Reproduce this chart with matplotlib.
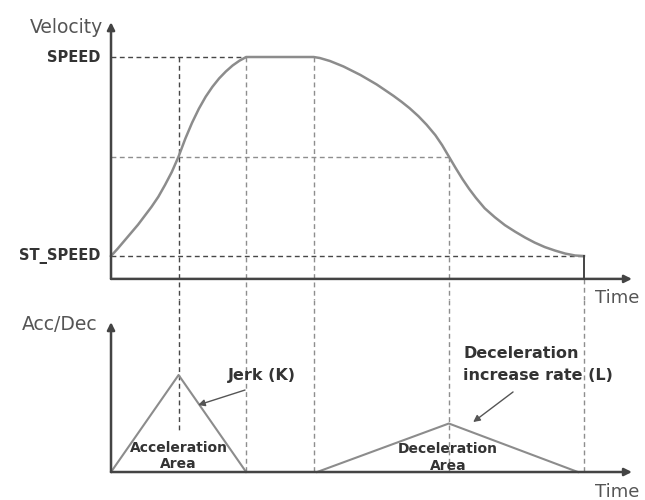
import matplotlib
matplotlib.use("Agg")
import matplotlib.pyplot as plt

# phase boundaries on the time axis
t_marks = [0, 1, 2, 3, 5, 7]
SPEED = 5.0
ST_SPEED = 1.0
V_MID = 3.0
V_AXIS = 0.54   # where the time axis sits in the velocity panel

# velocity curve
vel_t = [0, 0.1, 0.2, 0.3, 0.4, 0.5, 0.6, 0.7, 0.8, 0.9, 1.0,
         1.1, 1.2, 1.3, 1.4, 1.5, 1.6, 1.7, 1.8, 1.9, 2.0,
         3.0, 3.09, 3.24, 3.44, 3.69, 3.93, 4.05, 4.18, 4.3, 4.42, 4.55,
         4.67, 4.8, 4.9, 5.0,
         5.1, 5.2, 5.3, 5.4, 5.53, 5.68, 5.83, 5.98, 6.13, 6.27, 6.42, 6.57,
         6.72, 6.87, 7.0]
vel_v = [1.0, 1.15, 1.31, 1.47, 1.63, 1.81, 1.99, 2.19, 2.43, 2.69, 3.0,
         3.36, 3.68, 3.96, 4.20, 4.40, 4.57, 4.71, 4.83, 4.925, 5.0,
         5.0, 4.98, 4.92, 4.81, 4.64, 4.45, 4.34, 4.22, 4.10, 3.97, 3.81,
         3.64, 3.43, 3.23, 3.0,
         2.77, 2.55, 2.35, 2.17, 1.96, 1.78, 1.62, 1.49, 1.37, 1.27, 1.18, 1.11,
         1.05, 1.01, 1.0]

# acceleration / deceleration triangles
acc_t = [0, 1, 2]
acc_a = [0, 2.0, 0]
dec_t = [3.05, 5, 6.91]
dec_a = [0, 1.0, 0]

AXIS_C = "#444444"
CURVE_C = "#8c8c8c"
DARK_D = "#474747"
LIGHT_D = "#8e8e8e"
TEXT_C = "#333333"

fig = plt.figure(figsize=(6.45, 5.0), dpi=100)
ax_v = fig.add_axes([0, 0.4, 1, 0.6])
ax_a = fig.add_axes([0, 0.0, 1, 0.4])
for ax in (ax_v, ax_a):
    ax.set_xlim(-1.643, 7.903)
    ax.axis("off")
    ax.set_facecolor("none")
ax_v.set_ylim(0.116, 6.146)
ax_a.set_ylim(-0.577, 3.546)

dash = dict(lw=1.0, dashes=(3.5, 2.5))


def axis_arrow(ax, x0, y0, x1, y1):
    ax.annotate("", xy=(x1, y1), xytext=(x0, y0),
                arrowprops=dict(arrowstyle="-|>", color=AXIS_C, lw=1.8,
                                mutation_scale=11, shrinkA=0, shrinkB=0))


# ---- velocity panel ----
ax_v.plot([0, t_marks[2]], [SPEED, SPEED], color=DARK_D, **dash)
ax_v.plot([0, t_marks[4]], [V_MID, V_MID], color=LIGHT_D, **dash)
ax_v.plot([0, t_marks[5]], [ST_SPEED, ST_SPEED], color=DARK_D, **dash)
ax_v.plot([t_marks[1]] * 2, [SPEED, 0.116], color=DARK_D, **dash)
ax_v.plot([t_marks[2]] * 2, [SPEED, 0.116], color=LIGHT_D, **dash)
ax_v.plot([t_marks[3]] * 2, [SPEED, 0.116], color=LIGHT_D, **dash)
ax_v.plot([t_marks[4]] * 2, [V_MID, 0.116], color=LIGHT_D, **dash)
ax_v.plot([t_marks[5]] * 2, [V_AXIS, 0.116], color=LIGHT_D, **dash)
ax_v.plot(vel_t, vel_v, color=CURVE_C, lw=1.8, solid_joinstyle="round")
ax_v.plot([t_marks[5]] * 2, [ST_SPEED, V_AXIS], color=AXIS_C, lw=1.4)
axis_arrow(ax_v, 0, V_AXIS, 0, 5.70)
axis_arrow(ax_v, 0, V_AXIS, 7.71, V_AXIS)

ax_v.text(-0.118, 5.48, "Velocity", ha="right", va="baseline",
          fontsize=13.5, color="#555555")
ax_v.text(-0.163, 4.90, "SPEED", ha="right", va="baseline",
          fontsize=10.5, fontweight="bold", color=TEXT_C)
ax_v.text(-0.163, 0.92, "ST_SPEED", ha="right", va="baseline",
          fontsize=10.5, fontweight="bold", color=TEXT_C)
ax_v.text(7.16, 0.055, "Time", ha="left", va="baseline",
          fontsize=13, color="#555555")

# ---- acceleration panel ----
ax_a.plot([t_marks[1]] * 2, [3.546, 0.82], color=DARK_D, **dash)
ax_a.plot([t_marks[2]] * 2, [3.546, 0], color=LIGHT_D, **dash)
ax_a.plot([t_marks[3]] * 2, [3.546, 0], color=LIGHT_D, **dash)
ax_a.plot([t_marks[4]] * 2, [3.546, 0], color=LIGHT_D, **dash)
ax_a.plot([t_marks[5]] * 2, [3.546, 0], color=LIGHT_D, **dash)
ax_a.plot(acc_t, acc_a, color=CURVE_C, lw=1.5)
ax_a.plot(dec_t, dec_a, color=CURVE_C, lw=1.5)
axis_arrow(ax_a, 0, 0, 0, 3.09)
axis_arrow(ax_a, 0, 0, 7.71, 0)

ax_a.text(-0.207, 2.93, "Acc/Dec", ha="right", va="baseline",
          fontsize=13.5, color="#555555")
ax_a.text(7.16, -0.515, "Time", ha="left", va="baseline",
          fontsize=13, color="#555555")

ax_a.text(2.235, 1.90, "Jerk (K)", ha="center", va="baseline",
          fontsize=11.5, fontweight="bold", color=TEXT_C)
ax_a.annotate("", xy=(1.288, 1.38), xytext=(1.983, 1.69),
              arrowprops=dict(arrowstyle="-|>", color="#555555", lw=1.0,
                              mutation_scale=10, shrinkA=0, shrinkB=0))

ax_a.text(5.21, 2.35, "Deceleration", ha="left", va="baseline",
          fontsize=11.5, fontweight="bold", color=TEXT_C)
ax_a.text(5.21, 1.90, "increase rate (L)", ha="left", va="baseline",
          fontsize=11.5, fontweight="bold", color=TEXT_C)
ax_a.annotate("", xy=(5.36, 1.03), xytext=(5.95, 1.65),
              arrowprops=dict(arrowstyle="-|>", color="#555555", lw=1.0,
                              mutation_scale=10, shrinkA=0, shrinkB=0))

ax_a.text(1.0, 0.41, "Acceleration", ha="center", va="baseline",
          fontsize=10, fontweight="bold", color=TEXT_C)
ax_a.text(1.0, 0.08, "Area", ha="center", va="baseline",
          fontsize=10, fontweight="bold", color=TEXT_C)
ax_a.text(4.99, 0.39, "Deceleration", ha="center", va="baseline",
          fontsize=10, fontweight="bold", color=TEXT_C)
ax_a.text(4.99, 0.04, "Area", ha="center", va="baseline",
          fontsize=10, fontweight="bold", color=TEXT_C)

fig.savefig("out.png", dpi=100, facecolor="white")
